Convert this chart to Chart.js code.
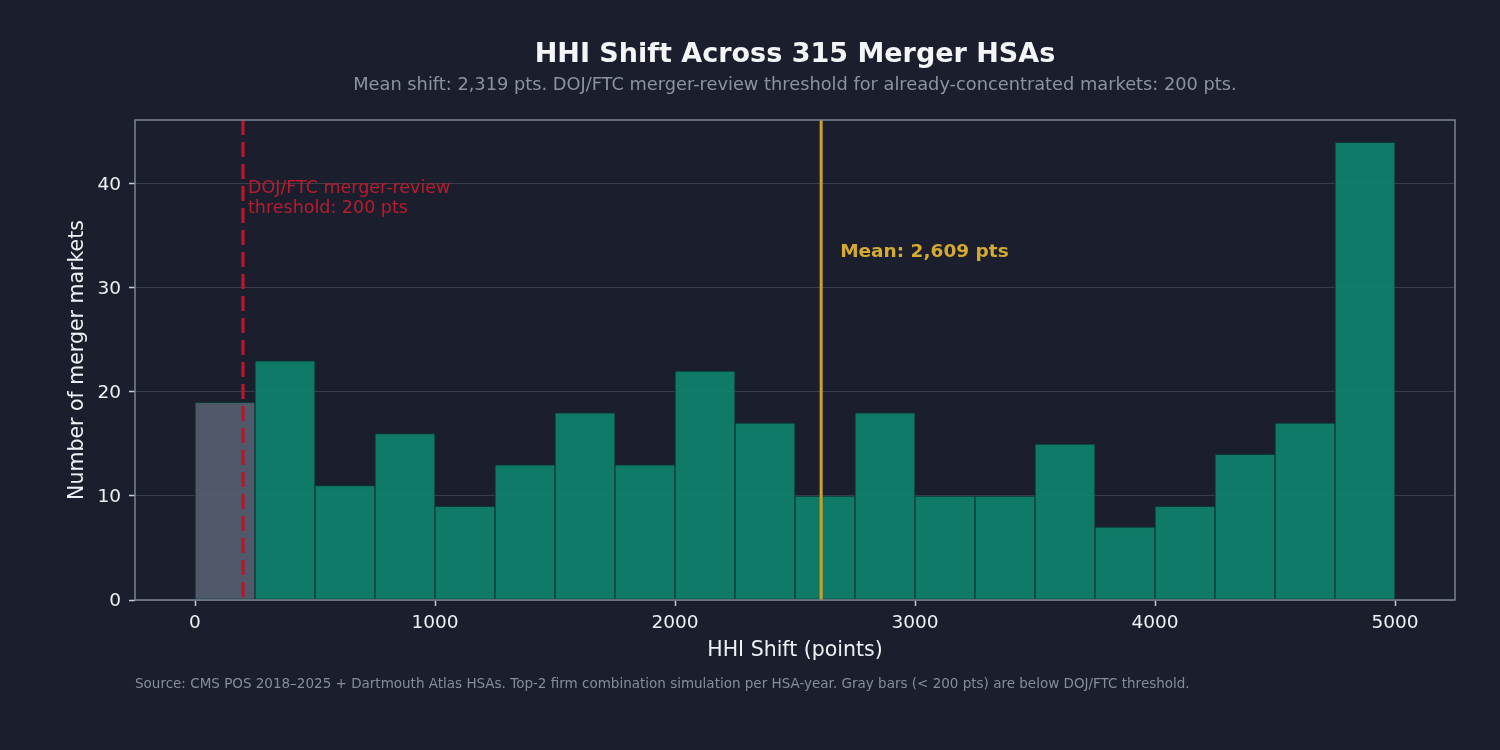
<!DOCTYPE html>
<html>
<head>
<meta charset="utf-8">
<script src="https://cdn.jsdelivr.net/npm/chart.js@4/dist/chart.umd.min.js"></script>
<style>
  html, body { margin: 0; padding: 0; background: #1b1f2d; }
  #wrap { width: 1500px; height: 750px; }
</style>
</head>
<body>
<div id="wrap"><canvas id="histChart"></canvas></div>
<script>
// histogram bins (HHI shift, points) and counts
const binEdges = [0, 250, 500, 750, 1000, 1250, 1500, 1750, 2000, 2250, 2500,
                  2750, 3000, 3250, 3500, 3750, 4000, 4250, 4500, 4750, 5000];
const counts   = [19, 23, 11, 16, 9, 13, 18, 13, 22, 17, 10, 18, 10, 10, 15, 7, 9, 14, 17, 44];
const xTicks   = [0, 1000, 2000, 3000, 4000, 5000];
const yTicks   = [0, 10, 20, 30, 40];
const threshold = 200;
const meanShift = 2609;

const FONT = "'DejaVu Sans', sans-serif";
const BG   = '#1b1f2d';

const points = counts.map((c, i) => ({ x: (binEdges[i] + binEdges[i + 1]) / 2, y: c }));
// first bin (below the 200 pt threshold) is gray
const fills  = points.map((p, i) => binEdges[i] < threshold
  ? 'rgba(84,94,112,0.92)' : 'rgba(14,132,110,0.9)');

const decorPlugin = {
  id: 'decor',
  beforeDraw(chart) {
    const c = chart.ctx;
    c.save();
    c.fillStyle = BG;
    c.fillRect(0, 0, chart.width, chart.height);
    c.restore();
  },
  afterDatasetsDraw(chart) {
    const { ctx: c, chartArea: { left, right, top, bottom }, scales: { x } } = chart;
    c.save();
    // threshold line
    const xt = x.getPixelForValue(threshold);
    c.strokeStyle = '#b8172c';
    c.lineWidth = 3.2;
    c.setLineDash([15, 7]);
    c.beginPath(); c.moveTo(xt, top); c.lineTo(xt, bottom); c.stroke();
    c.setLineDash([]);
    // mean line
    const xm = x.getPixelForValue(meanShift);
    c.strokeStyle = '#c9a22c';
    c.lineWidth = 3;
    c.beginPath(); c.moveTo(xm, top); c.lineTo(xm, bottom); c.stroke();

    // frame
    c.strokeStyle = '#7b8596';
    c.lineWidth = 1.5;
    c.strokeRect(left, top, right - left, bottom - top);

    // labels
    c.textBaseline = 'middle';
    c.textAlign = 'left';
    c.fillStyle = '#b81c2e';
    c.font = `17.5px ${FONT}`;
    c.fillText('DOJ/FTC merger-review', xt + 5, 188);
    c.fillText('threshold: 200 pts', xt + 5, 208);
    c.fillStyle = '#d4aa32';
    c.font = `bold 18.5px ${FONT}`;
    c.fillText('Mean: 2,609 pts', xm + 19, 252);

    // title block
    c.textAlign = 'center';
    const cx = (left + right) / 2;
    c.fillStyle = '#f4f5f7';
    c.font = `bold 27px ${FONT}`;
    c.fillText('HHI Shift Across 315 Merger HSAs', cx, 55);
    c.fillStyle = '#8b93a3';
    c.font = `17.8px ${FONT}`;
    c.fillText('Mean shift: 2,319 pts. DOJ/FTC merger-review threshold for already-concentrated markets: 200 pts.', cx, 85);

    // source note
    c.textAlign = 'left';
    c.fillStyle = '#858d9d';
    c.font = `13.5px ${FONT}`;
    c.fillText('Source: CMS POS 2018\u20132025 + Dartmouth Atlas HSAs. Top-2 firm combination simulation per HSA-year. Gray bars (< 200 pts) are below DOJ/FTC threshold.', left, 684);
    c.restore();
  }
};

new Chart(document.getElementById('histChart'), {
  type: 'bar',
  plugins: [decorPlugin],
  data: {
    datasets: [{
      data: points,
      backgroundColor: fills,
      borderColor: '#0b3a34',
      borderWidth: 1,
      borderSkipped: false,
      barPercentage: 1,
      categoryPercentage: 1
    }]
  },
  options: {
    responsive: true,
    maintainAspectRatio: false,
    animation: false,
    layout: { padding: { top: 120, right: 45, bottom: 0, left: 0 } },
    plugins: { legend: { display: false }, tooltip: { enabled: false } },
    scales: {
      x: {
        type: 'linear',
        min: -250, max: 5250,
        offset: false,
        afterFit: s => { s.height = 150; },
        afterBuildTicks: s => { s.ticks = xTicks.map(v => ({ value: v })); },
        ticks: { color: '#eef0f3', font: { size: 18.5, family: FONT }, padding: 6, maxRotation: 0,
                 autoSkip: false, callback: v => String(v) },
        grid: { offset: false, drawOnChartArea: false, drawTicks: true, tickLength: 6, tickColor: '#c9cdd4', tickWidth: 1.5 },
        border: { display: false },
        title: { display: true, text: 'HHI Shift (points)', color: '#eef0f3',
                 font: { size: 20.5, family: FONT }, padding: { top: 0, bottom: 87 } }
      },
      y: {
        min: 0, max: 46.15,
        afterFit: s => { s.width = 135; },
        afterBuildTicks: s => { s.ticks = yTicks.map(v => ({ value: v })); },
        ticks: { color: '#eef0f3', font: { size: 18.5, family: FONT }, padding: 8, labelOffset: 1.5 },
        grid: { color: 'rgba(70,76,90,0.7)', lineWidth: 1, drawTicks: true, tickLength: 6, tickColor: '#c9cdd4', tickWidth: 1.5 },
        border: { display: false },
        title: { display: true, text: 'Number of merger markets', color: '#eef0f3',
                 font: { size: 20.5, family: FONT }, padding: { top: 65, bottom: 0 } }
      }
    }
  }
});
</script>
</body>
</html>
